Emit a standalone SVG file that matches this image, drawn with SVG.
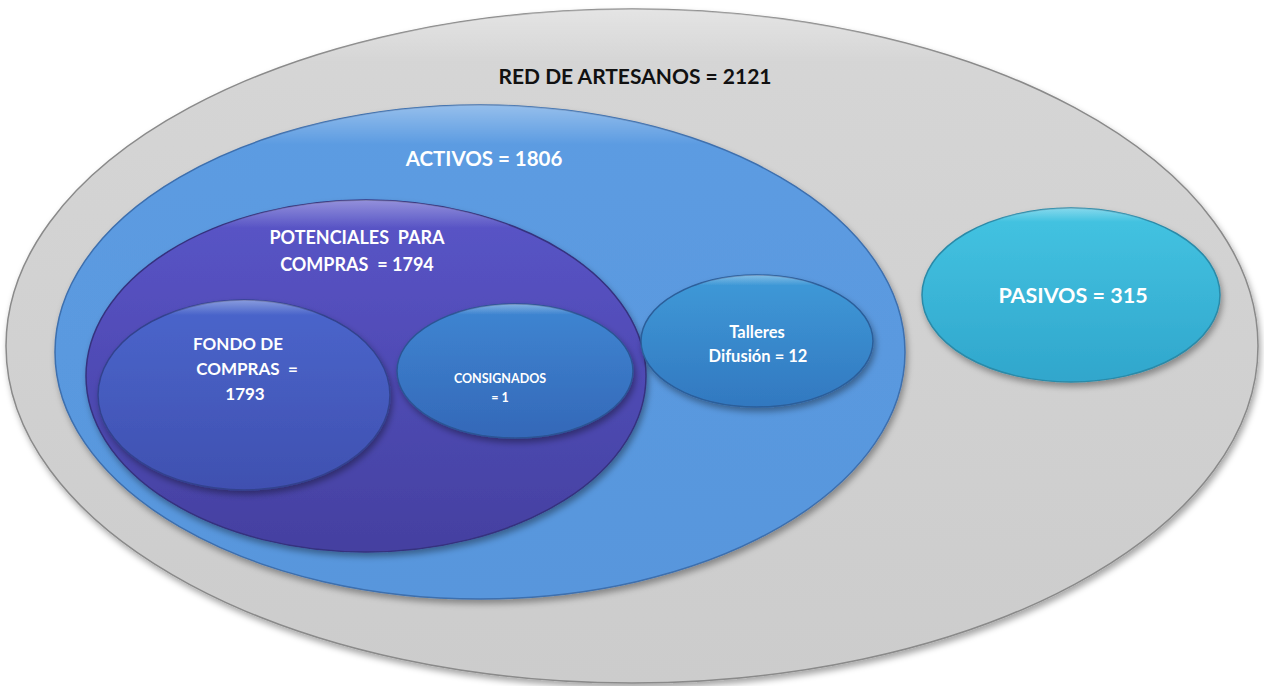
<svg xmlns="http://www.w3.org/2000/svg" width="1264" height="686" viewBox="0 0 1264 686">
<defs>
<filter id="sh" x="-10%" y="-10%" width="120%" height="125%">
<feDropShadow dx="2" dy="4" stdDeviation="3" flood-color="#000" flood-opacity="0.35"/>
</filter>
<linearGradient id="gGray" x1="0" y1="0" x2="0" y2="1"><stop offset="0" stop-color="#d6d6d6"/><stop offset="1" stop-color="#cccccc"/></linearGradient>
<linearGradient id="gAct" x1="0" y1="0" x2="0" y2="1"><stop offset="0" stop-color="#5c9ce2"/><stop offset="1" stop-color="#5896dc"/></linearGradient>
<linearGradient id="gPot" x1="0" y1="0" x2="0" y2="1"><stop offset="0" stop-color="#5a55c8"/><stop offset="1" stop-color="#4440a0"/></linearGradient>
<linearGradient id="gFon" x1="0" y1="0" x2="0" y2="1"><stop offset="0" stop-color="#4a66cc"/><stop offset="1" stop-color="#4050b0"/></linearGradient>
<linearGradient id="gCon" x1="0" y1="0" x2="0" y2="1"><stop offset="0" stop-color="#3f86d2"/><stop offset="1" stop-color="#3468b8"/></linearGradient>
<linearGradient id="gTal" x1="0" y1="0" x2="0" y2="1"><stop offset="0" stop-color="#3f9ad8"/><stop offset="1" stop-color="#3278c0"/></linearGradient>
<linearGradient id="gPas" x1="0" y1="0" x2="0" y2="1"><stop offset="0" stop-color="#44c4e2"/><stop offset="1" stop-color="#30a6cc"/></linearGradient>
<linearGradient id="hl" x1="0" y1="0" x2="0" y2="1"><stop offset="0" stop-color="#fff" stop-opacity="0.35"/><stop offset="0.08" stop-color="#fff" stop-opacity="0"/></linearGradient>
</defs>
<style>
.e{filter:url(#sh);stroke-width:1.5}
.hl{fill:url(#hl);stroke:none}
text{font-family:"Lato","Liberation Sans",sans-serif;font-weight:bold;text-anchor:middle}
.w{fill:#fff}
.k{fill:#111}
</style>
<rect width="1264" height="686" fill="#fff"/>
<g id="red">
<ellipse class="e" cx="632" cy="346" rx="626" ry="337" fill="url(#gGray)" stroke="#8a8a8a"/>
<ellipse class="hl" cx="632" cy="346" rx="626" ry="337"/>
<text class="k" x="635" y="84" font-size="21">RED DE ARTESANOS = 2121</text>
</g>
<g id="activos">
<ellipse class="e" cx="480" cy="352" rx="425" ry="247" fill="url(#gAct)" stroke="#3d6fae"/>
<ellipse class="hl" cx="480" cy="352" rx="425" ry="247"/>
<text class="w" x="484" y="166" font-size="20.5">ACTIVOS = 1806</text>
</g>
<g id="potenciales">
<ellipse class="e" cx="366" cy="376" rx="280" ry="176" fill="url(#gPot)" stroke="#35327e"/>
<ellipse class="hl" cx="366" cy="376" rx="280" ry="176"/>
<text class="w" x="357" y="244" font-size="18" xml:space="preserve">POTENCIALES  PARA</text>
<text class="w" x="357" y="271" font-size="18" xml:space="preserve">COMPRAS  = 1794</text>
</g>
<g id="fondo">
<ellipse class="e" cx="244" cy="395" rx="146" ry="95" fill="url(#gFon)" stroke="#33428e"/>
<ellipse class="hl" cx="244" cy="395" rx="146" ry="95"/>
<text class="w" x="238" y="350" font-size="17">FONDO DE</text>
<text class="w" x="247" y="375" font-size="17" xml:space="preserve">COMPRAS  =</text>
<text class="w" x="245" y="400" font-size="17">1793</text>
</g>
<g id="consignados">
<ellipse class="e" cx="515" cy="371" rx="118" ry="67" fill="url(#gCon)" stroke="#2c5494"/>
<ellipse class="hl" cx="515" cy="371" rx="118" ry="67"/>
<text class="w" x="500" y="383" font-size="12.5">CONSIGNADOS</text>
<text class="w" x="500" y="402" font-size="12.5">= 1</text>
</g>
<g id="talleres">
<ellipse class="e" cx="757" cy="341" rx="116" ry="66" fill="url(#gTal)" stroke="#2c5e9a"/>
<ellipse class="hl" cx="757" cy="341" rx="116" ry="66"/>
<text class="w" x="757" y="338" font-size="16.5">Talleres</text>
<text class="w" x="758" y="362" font-size="16.5">Difusión = 12</text>
</g>
<g id="pasivos">
<ellipse class="e" cx="1071" cy="295" rx="149" ry="87" fill="url(#gPas)" stroke="#2a8aa8"/>
<ellipse class="hl" cx="1071" cy="295" rx="149" ry="87"/>
<text class="w" x="1073" y="303" font-size="21.5">PASIVOS = 315</text>
</g>
<g id="connectors"/>
</svg>
